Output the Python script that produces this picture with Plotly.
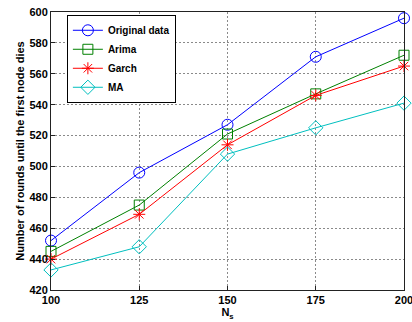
import plotly.graph_objects as go

ns = [100, 125, 150, 175, 200]
original = [452, 496, 527, 571, 596]
arima = [445, 475, 521, 547, 572]
garch = [440, 469, 514, 546, 565]
ma = [433, 448, 508, 525, 541]

series = [
    ("Original data", original, "#0000FF", "circle-open", 11),
    ("Arima", arima, "#008000", "square-open", 10),
    ("Garch", garch, "#FF0000", "asterisk-open", 10),
    ("MA", ma, "#00BFBF", "diamond-open", 11),
]

fig = go.Figure()
for name, vals, color, sym, size in series:
    fig.add_trace(go.Scatter(
        x=ns, y=vals, name=name, mode="lines+markers", cliponaxis=False,
        line=dict(color=color, width=1),
        marker=dict(symbol=sym, size=size, color=color, line=dict(color=color, width=1)),
    ))

FAM = "Liberation Sans, Arial, sans-serif"
fig.update_layout(
    width=412, height=322,
    margin=dict(l=51, r=8, t=12, b=32, autoexpand=False),
    paper_bgcolor="white", plot_bgcolor="white",
    font=dict(family=FAM, size=11, color="black"),
    showlegend=True,
    legend=dict(
        x=0.045, y=0.99, xanchor="left", yanchor="top",
        bgcolor="white", bordercolor="black", borderwidth=1,
        font=dict(family=FAM, size=10, color="black", weight="bold"),
        tracegroupgap=0, itemwidth=30,
    ),
)
fig.update_xaxes(
    range=[100, 200], tickvals=ns, ticktext=[str(v) for v in ns],
    automargin=False, ticklabeloverflow="allow",
    showgrid=True, gridcolor="#8a8a8a", griddash="2px,2px", gridwidth=1,
    showline=True, linecolor="#222222", linewidth=1, mirror=True,
    ticks="inside", ticklen=4, tickcolor="#222222",
    tickfont=dict(family=FAM, size=11, weight="bold"),
    title=dict(text="N<sub>s</sub>", standoff=0,
               font=dict(family=FAM, size=11, weight="bold")),
    zeroline=False,
)
fig.update_yaxes(
    range=[420, 600], tickvals=list(range(420, 601, 20)),
    automargin=False, ticklabeloverflow="allow",
    showgrid=True, gridcolor="#8a8a8a", griddash="2px,2px", gridwidth=1,
    showline=True, linecolor="#222222", linewidth=1, mirror=True,
    ticks="inside", ticklen=4, tickcolor="#222222",
    tickfont=dict(family=FAM, size=11, weight="bold"),
    title=dict(text="Number of rounds until the first node dies", standoff=2,
               font=dict(family=FAM, size=11, weight="bold")),
    zeroline=False,
)

fig.write_html(
    "out.html",
    config={"displayModeBar": False},
    post_script="document.body.style.margin='0';document.body.style.overflow='hidden';",
)
